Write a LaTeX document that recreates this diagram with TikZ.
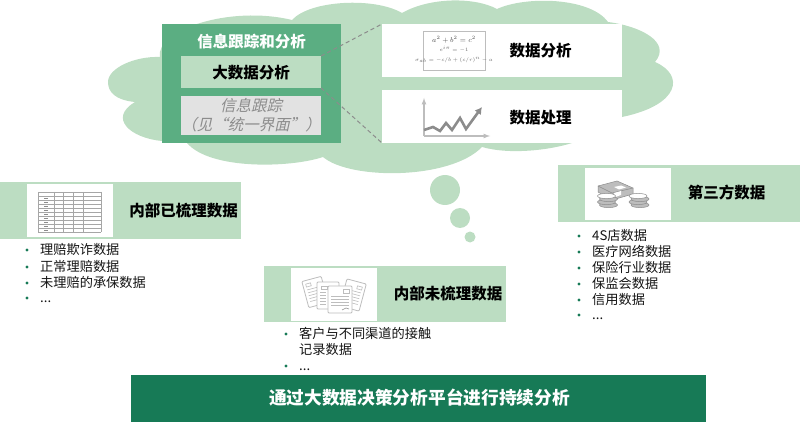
\documentclass[tikz,border=0pt]{standalone}
\usepackage{fontspec}
\usetikzlibrary{arrows.meta}
\setmainfont{Noto Sans CJK SC}
\newfontfamily\cjkreg{Noto Sans CJK SC}
\newfontfamily\cjkslant[FakeSlant=0.22]{Noto Sans CJK SC}
\newcommand{\fz}[1]{\fontsize{#1}{#1}\selectfont}
\definecolor{lightgr}{HTML}{BCDDC2}
\definecolor{midgr}{HTML}{5BAE82}
\definecolor{darkgr}{HTML}{177A56}
\definecolor{softgray}{HTML}{E2E2E2}
\definecolor{icongray}{HTML}{8C8C8C}
\definecolor{iconlight}{HTML}{BDBDBD}
\definecolor{tablegray}{HTML}{A6A6A6}
\tikzset{
  panel/.style={anchor=north west,inner sep=0pt,outer sep=0pt,draw=none},
  title/.style={inner sep=0pt,font=\cjkreg\bfseries\fz{15.5},text=black},
  itemtext/.style={anchor=west,inner sep=0pt,font=\cjkreg\fz{13.2},text=black!92,text height=11pt,text depth=2pt},
  bulletdot/.style={fill=darkgr,circle,inner sep=0pt,minimum size=3.4pt},
  sheet/.style={fill=white,draw=iconlight,line width=0.8pt,rounded corners=1pt,inner sep=0pt},
  coin/.style={fill=iconlight,draw=icongray,line width=0.5pt},
  coinTop/.style={fill=white,draw=icongray,line width=0.5pt},
  sheetline/.style={draw=iconlight,line width=0.6pt},
}
\newcommand{\lit}[5]{% name, bullet x, text x, y, text
  \node[bulletdot] (#1b) at (#2,#4) {};
  \node[itemtext] (#1) at (#3,#4) {#5};
}
\newcommand{\coinstack}[2]{%
  \foreach \d/\o in {0/1,-3/-1,-6/1}{
    \filldraw[coin] (#1+\o,#2+\d) ellipse (9pt and 2.6pt);
  }
  \filldraw[coinTop] (#1-1,#2-9) ellipse (9pt and 2.6pt);
}
\begin{document}
\begin{tikzpicture}[x=1pt,y=-1pt]
\useasboundingbox (0,0) rectangle (800,422);
% cloud
\fill[lightgr] (108,82)
 .. controls (108,68) and (135,56) .. (160,57)
 .. controls (155,30) and (230,5) .. (292,20)
 .. controls (310,0) and (375,-3) .. (402,13)
 .. controls (430,-3) and (475,-3) .. (497,9)
 .. controls (525,-4) and (590,-3) .. (608,22)
 .. controls (640,26) and (672,42) .. (655,62)
 .. controls (685,75) and (680,105) .. (622,117)
 .. controls (610,125) and (600,138) .. (572,143)
 .. controls (550,150) and (510,155) .. (482,147)
 .. controls (450,180) and (350,180) .. (323,157)
 .. controls (290,168) and (210,170) .. (187,143)
 -- (162,141)
 .. controls (130,138) and (108,118) .. (135,102)
 .. controls (115,100) and (108,92) .. (108,82) -- cycle;
% bubbles
\node[circle,fill=lightgr,minimum size=30pt,inner sep=0pt] (bub1) at (445,190) {};
\node[circle,fill=lightgr,minimum size=20pt,inner sep=0pt] (bub2) at (460,218) {};
\node[circle,fill=lightgr,minimum size=11pt,inner sep=0pt] (bub3) at (470,237) {};
% top panel
\node[panel,fill=midgr,minimum width=179pt,minimum height=119pt] (track) at (162,24) {};
\node[title,text=white] (tracktitle) at (251.5,42) {信息跟踪和分析};
\node[panel,fill=lightgr,minimum width=140pt,minimum height=32pt] (bigdata) at (181,56) {};
\node[title] (bigdatat) at (251,73) {大数据分析};
\node[panel,fill=softgray,minimum width=140pt,minimum height=39pt] (info) at (181,96) {};
\node[inner sep=0pt,font=\cjkslant\fz{15.5},text=black!45] (infoa) at (251,106) {信息跟踪};
\node[inner sep=0pt,font=\cjkslant\fz{15.5},text=black!45] (infob) at (251,125) {（见“统一界面”）};
% white panels
\node[panel,fill=white,minimum width=240pt,minimum height=53pt] (ana) at (382,24) {};
\node[panel,fill=white,minimum width=240pt,minimum height=53pt] (proc) at (382,90) {};
\node[title] (anat) at (540.5,51) {数据分析};
\node[title] (proct) at (540.5,118) {数据处理};
\draw[icongray,line width=1pt,dash pattern=on 4pt off 3pt] (bigdata.north east) -- (ana.north west);
\draw[icongray,line width=1pt,dash pattern=on 4pt off 3pt] (bigdata.south east) -- (proc.south west);
% formula icon
\node[panel,draw=iconlight,line width=0.9pt,fill=white,minimum width=62pt,minimum height=39pt] (formula) at (423,31) {};
\node[inner sep=0pt,text=black!70] (f1) at (454,39.5) {\fontsize{7}{7}\selectfont$a^2+b^2=c^2$};
\node[inner sep=0pt,text=black!60] (f2) at (454,49) {\fontsize{4}{4}\selectfont$e^{i\pi}=-1$};
\node[inner sep=0pt,text=black!60] (f3) at (454,60) {\fontsize{4.5}{4.5}\selectfont$\sigma_{ab}=-c/b+(c/r)^{n}-a$};
% chart icon
\coordinate (axo) at (424,136);
\coordinate (axy) at (424,98);
\coordinate (axx) at (490,136);
\draw[iconlight,line width=1.2pt,-latex] (axo) -- (axy);
\draw[iconlight,line width=1.2pt,-latex] (axo) -- (axx);
\draw[icongray,line width=2.6pt,line join=miter,-{Latex[length=7pt,width=8pt]}] (424,130) -- (433,127) -- (440,131) -- (446,123) -- (452,130) -- (460,118) -- (466,129) -- (482,107);
% left band
\node[panel,fill=lightgr,minimum width=241pt,minimum height=57pt] (b1) at (0,182) {};
\node[panel,fill=white,minimum width=86pt,minimum height=53pt] (b1w) at (27,184) {};
\node[title] (b1t) at (183.5,211) {内部已梳理数据};
\foreach \yy in {192,196,...,232}{\draw[tablegray,line width=0.8pt] (38,\yy) -- (101,\yy);}
\foreach \xx in {38,54,63,73,83,101}{\draw[tablegray,line width=0.8pt] (\xx,192) -- (\xx,232);}
\foreach \yy in {198,202,...,230}{\draw[icongray,line width=0.6pt] (44,\yy) -- (48,\yy);}
\lit{l1}{27}{40}{250}{理赔欺诈数据}
\lit{l2}{27}{40}{267}{正常理赔数据}
\lit{l3}{27}{40}{283}{未理赔的承保数据}
\lit{l4}{27}{40}{298}{...}
% middle band
\node[panel,fill=lightgr,minimum width=242pt,minimum height=56pt] (b2) at (264,266) {};
\node[panel,fill=white,minimum width=86pt,minimum height=53pt] (b2w) at (291,268) {};
\node[title] (b2t) at (448,294) {内部未梳理数据};
\node[sheet,rotate=15,minimum width=20pt,minimum height=27pt] (s1) at (315,292) {};
\begin{scope}[shift={(315,292)},rotate=15]
 \draw[sheetline] (-7,-10) rectangle (-2,-7);
 \foreach \yy in {-4,-1,...,8}{\draw[sheetline] (-7,\yy) -- (7,\yy);}
\end{scope}
\node[sheet,rotate=-15,minimum width=20pt,minimum height=28pt] (s2) at (353,295) {};
\begin{scope}[shift={(353,295)},rotate=-15]
 \draw[sheetline] (2,-10) rectangle (7,-7);
 \foreach \yy in {-4,-1,...,8}{\draw[sheetline] (-7,\yy) -- (7,\yy);}
\end{scope}
\node[sheet,minimum width=22pt,minimum height=27pt] (s3) at (328,295.5) {};
\draw[sheetline] (321,286) rectangle (327,289);
\foreach \yy in {292,295,...,304}{\draw[sheetline] (320,\yy) -- (326,\yy);}
\node[sheet,minimum width=24pt,minimum height=27pt] (s4) at (340,299.5) {};
\draw[sheetline] (343,289.5) rectangle (349,293);
\foreach \yy in {296,299,...,305}{\draw[sheetline] (331,\yy) -- (349,\yy);}
\draw[icongray,line width=0.6pt] (342,310) -- (346,308) -- (349,309);
% middle list
\lit{m1}{286}{299}{334}{客户与不同渠道的接触}
\node[itemtext] (m1b2) at (299,350) {记录数据};
\lit{m2}{286}{299}{366}{...}
% right band
\node[panel,fill=lightgr,minimum width=242pt,minimum height=57pt] (b3) at (558,165) {};
\node[panel,fill=white,minimum width=86pt,minimum height=52pt] (b3w) at (585,168) {};
\node[title] (b3t) at (726.5,193) {第三方数据};
% money icon
\filldraw[fill=iconlight,draw=icongray,line width=0.5pt] (598,186) -- (617,181) -- (633,188) -- (633,194) -- (612,200) -- (598,192) -- cycle;
\draw[icongray,line width=0.5pt] (598,186) -- (612,193) -- (633,188) (612,193) -- (612,200);
\fill[white] (614,187) -- (621,185.5) -- (626,187.5) -- (619,189.5) -- cycle;
\fill[white] (614,193) -- (621,191) -- (621,195) -- (614,197.5) -- cycle;
\coinstack{607.5}{205}
\coinstack{639}{205}
\lit{r1}{579}{592}{236}{4S店数据}
\lit{r2}{579}{592}{252}{医疗网络数据}
\lit{r3}{579}{592}{268}{保险行业数据}
\lit{r4}{579}{592}{284}{保监会数据}
\lit{r5}{579}{592}{300}{信用数据}
\lit{r6}{579}{592}{315}{...}
% bottom bar
\node[panel,fill=darkgr,minimum width=575pt,minimum height=47pt] (bar) at (131,375) {};
\node[title,text=white,font=\cjkreg\bfseries\fz{17.7}] (bart) at (419.5,398) {通过大数据决策分析平台进行持续分析};
\end{tikzpicture}
\end{document}
